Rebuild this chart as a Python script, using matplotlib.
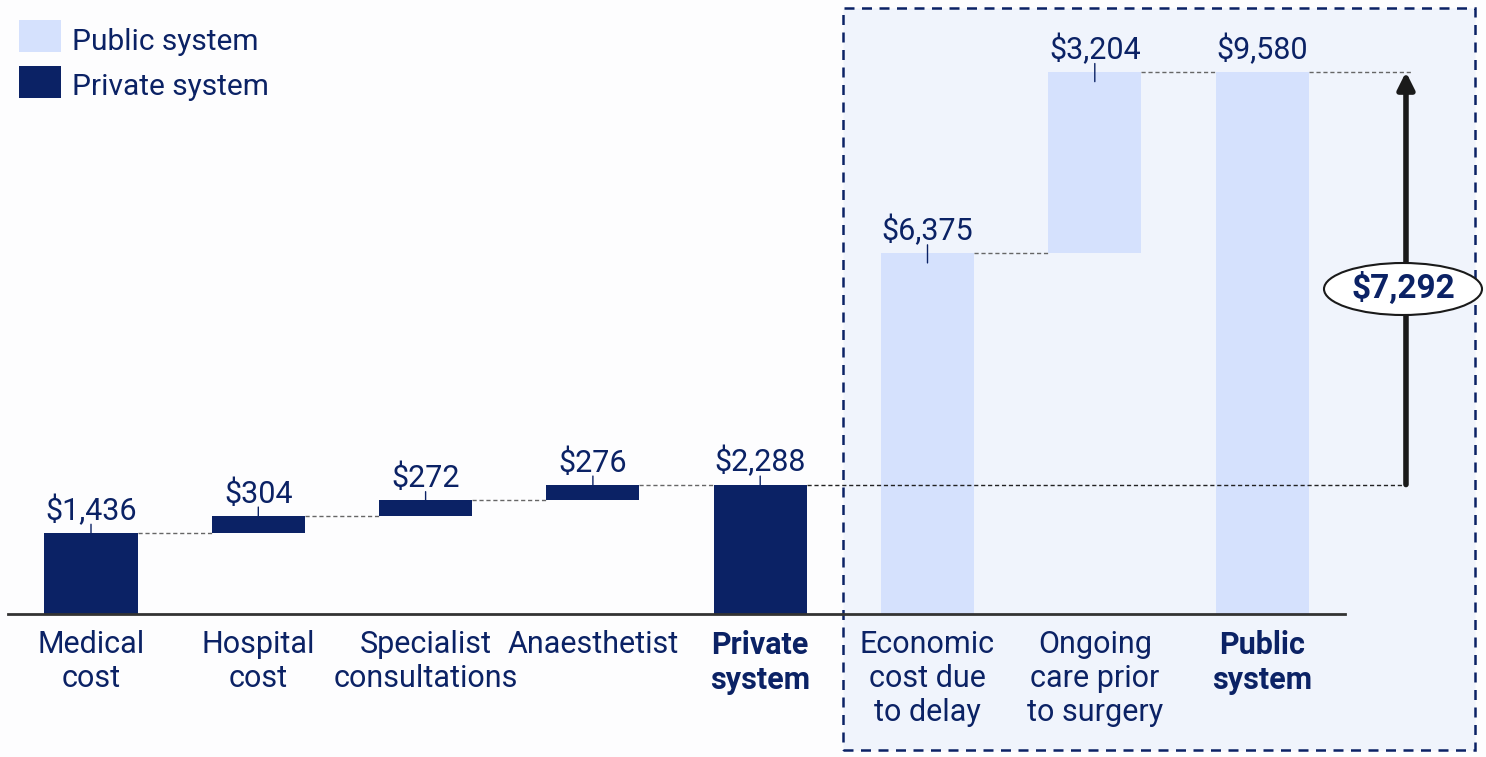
import matplotlib
matplotlib.use("Agg")
import matplotlib.pyplot as plt
from matplotlib.patches import Rectangle, Ellipse

plt.rcParams['font.family'] = ['Roboto', 'DejaVu Sans']

# data
categories = ["Medical\ncost", "Hospital\ncost", "Specialist\nconsultations", "Anaesthetist",
              "Private\nsystem", "Economic\ncost due\nto delay", "Ongoing\ncare prior\nto surgery",
              "Public\nsystem"]
values = [1436, 304, 272, 276, 2288, 6375, 3204, 9580]
is_total = [False, False, False, False, True, False, False, True]
system = ["private"] * 5 + ["public"] * 3
difference = 7292

NAVY = "#0b2265"
LIGHT = "#d5e1fd"
BOX = "#f0f4fc"

# pixel -> data helpers (axes fill the whole figure)
PX_X = 167.3      # pixels per category
PX_Y = 0.05658    # pixels per dollar


def py(p):
    return (614 - p) / PX_Y


fig = plt.figure(figsize=(14.86, 7.57), dpi=100)
fig.patch.set_facecolor("#fdfdfe")
ax = fig.add_axes([0, 0, 1, 1])
ax.set_xlim(-91 / PX_X, (1486 - 91) / PX_X)
ax.set_ylim(py(757), py(0))
ax.axis('off')

# dashed box behind public system
ax.add_patch(Rectangle((4.495, py(750)), 3.775, py(8) - py(750), facecolor=BOX, edgecolor=NAVY,
                       lw=1.8, ls=(0, (4, 3)), zorder=0))

w = 0.556
running = 0
tops = []
for i, v in enumerate(values):
    if is_total[i]:
        bottom = 0
        running = v
    else:
        if i == 5:
            running = 0
        bottom = running
        running += v
    tops.append(bottom + v)
    color = NAVY if system[i] == "private" else LIGHT
    ax.bar(i, v, bottom=bottom, width=w, color=color, zorder=2)
    lbl_top = tops[i]
    ax.annotate(f"${v:,}", (i, lbl_top), xytext=(0, 5), textcoords='offset points',
                ha='center', va='bottom', fontsize=22, color=NAVY, zorder=4)
    if not (is_total[i] and system[i] == "public"):
        ax.annotate("", (i, lbl_top - 170), xytext=(i, lbl_top + 150),
                    arrowprops=dict(arrowstyle='-', color=NAVY, lw=1, shrinkA=0, shrinkB=0), zorder=3)
    weight = 'bold' if is_total[i] else 'normal'
    ax.text(i, py(630), categories[i], ha='center', va='top', fontsize=22, color=NAVY,
            fontweight=weight, linespacing=1.22)

# connectors
for i in range(len(values) - 1):
    if i == 4:
        continue
    lvl = tops[i]
    ax.plot([i + w / 2, i + 1 - w / 2], [lvl, lvl], color="#666666", lw=1, ls=(0, (3, 2)), zorder=1)
ax.plot([4 + w / 2, 7.86], [tops[4], tops[4]], color="#222222", lw=1, ls=(0, (3, 2)), zorder=3)
ax.plot([7 + w / 2, 7.9], [tops[7], tops[7]], color="#666666", lw=1, ls=(0, (3, 2)), zorder=1)

# baseline
ax.plot([-0.496, 7.496], [0, 0], color="#333333", lw=2, zorder=3)

# difference arrow
ax.annotate("", (7.86, tops[7]), xytext=(7.86, tops[4]),
            arrowprops=dict(arrowstyle='-|>,head_width=0.5,head_length=1.0', color="#1a1a1a", lw=4,
                            shrinkA=0, shrinkB=0), zorder=3)
ex = (1403 - 91) / PX_X
ax.add_patch(Ellipse((ex, py(289)), 158 / PX_X, 52 / PX_Y, facecolor="white",
                     edgecolor="#1a1a1a", lw=1.5, zorder=4))
ax.text(ex, py(289), f"${difference:,}", ha='center', va='center', fontsize=24,
        fontweight='bold', color=NAVY, zorder=5)

# legend
ax.add_patch(Rectangle(((19 - 91) / PX_X, py(52)), 42 / PX_X, 32 / PX_Y, facecolor=LIGHT, zorder=2))
ax.add_patch(Rectangle(((19 - 91) / PX_X, py(98)), 42 / PX_X, 32 / PX_Y, facecolor=NAVY, zorder=2))
ax.text((72 - 91) / PX_X, py(42), "Public system", va='center', fontsize=21.5, color=NAVY)
ax.text((72 - 91) / PX_X, py(87), "Private system", va='center', fontsize=21.5, color=NAVY)

fig.savefig("out.png", dpi=100, facecolor=fig.get_facecolor())
